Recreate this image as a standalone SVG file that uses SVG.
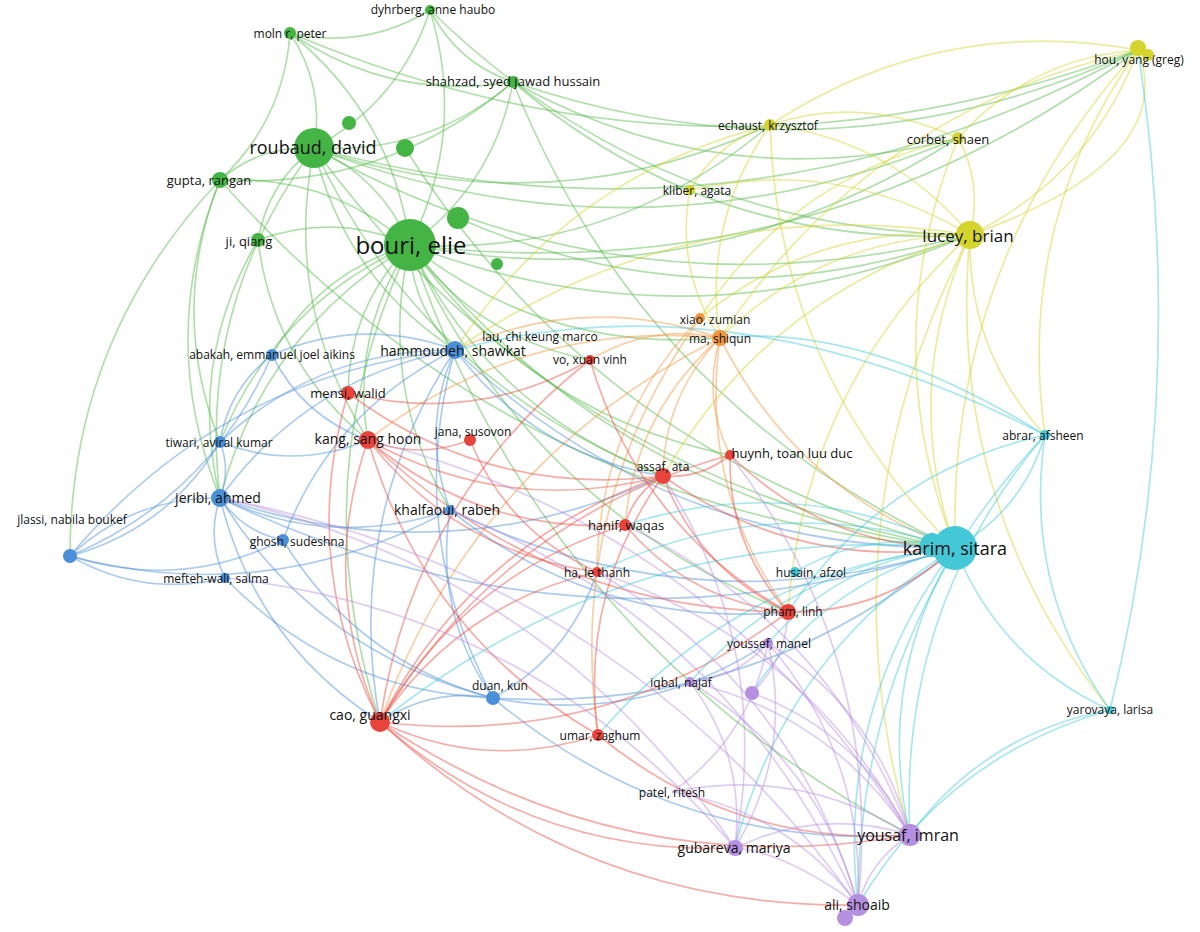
<svg xmlns="http://www.w3.org/2000/svg" width="1200" height="932" viewBox="0 0 1200 932">
<style>
text{font-family:"Open Sans","Liberation Sans",sans-serif;fill:#111;text-anchor:middle;font-size:12px}
.e path{fill:none;stroke-width:1.7;stroke-opacity:.45}
.eg path{stroke:#52b848}.ey path{stroke:#d3d32c}.eo path{stroke:#f0963c}.eb path{stroke:#4a8fd8}.er path{stroke:#e84a3f}.ec path{stroke:#40c8d8}.ep path{stroke:#b58fe0}
.g{fill:#44b544}.y{fill:#d4d42c}.o{fill:#f0963c}.b{fill:#4a8fd8}.r{fill:#e8443c}.c{fill:#44c8d8}.p{fill:#b58fe0}
</style>
<rect width="1200" height="932" fill="#fff"/>
<g id="connectors" class="e">
<g class="eg">
<path d="M410 245Q381 177 314 148"/><path d="M410 245Q392 115 290 33"/><path d="M410 245Q467 132 430 10"/><path d="M410 245Q494 184 513 82"/><path d="M410 245Q328 174 220 180"/><path d="M410 245Q335 212 258 240"/><path d="M410 245Q692 352 970 235"/><path d="M410 245Q622 505 955 548"/><path d="M410 245Q411 306 455 350"/><path d="M410 245Q350 334 368 440"/><path d="M410 245Q349 307 348 393"/><path d="M410 245Q490 411 663 476"/><path d="M410 245Q546 353 720 338"/><path d="M410 245Q705 301 958 138"/><path d="M410 245Q614 257 770 125"/><path d="M410 245Q264 333 220 498"/><path d="M410 245Q275 305 220 442"/><path d="M410 245Q319 272 272 355"/><path d="M410 245Q377 385 450 510"/><path d="M410 245Q300 477 380 722"/><path d="M410 245Q477 338 590 360"/><path d="M410 245Q528 414 730 455"/><path d="M410 245Q813 293 1138 50"/><path d="M410 245Q542 640 910 835"/><path d="M410 245Q526 504 788 612"/>
<path d="M314 148Q325 86 290 33"/><path d="M314 148Q400 102 430 10"/><path d="M314 148Q427 155 513 82"/><path d="M314 148Q261 145 220 180"/><path d="M314 148Q268 183 258 240"/><path d="M314 148Q625 323 970 235"/><path d="M314 148Q554 476 955 548"/><path d="M314 148Q547 228 770 125"/><path d="M314 148Q638 272 958 138"/><path d="M314 148Q197 304 220 498"/><path d="M314 148Q283 305 368 440"/><path d="M314 148Q746 264 1138 50"/><path d="M314 148Q344 277 455 350"/><path d="M314 148Q423 382 663 476"/>
<path d="M220 180Q284 120 290 33"/><path d="M220 180Q156 339 220 498"/><path d="M220 180Q70 338 70 556"/><path d="M220 180Q168 311 220 442"/><path d="M220 180Q386 190 513 82"/><path d="M290 33Q365 50 430 10"/><path d="M290 33Q392 102 513 82"/><path d="M430 10Q457 63 513 82"/><path d="M430 10Q655 230 970 235"/><path d="M513 82Q711 250 970 235"/><path d="M513 82Q724 199 958 138"/><path d="M513 82Q832 191 1138 50"/><path d="M513 82Q641 403 955 548"/><path d="M290 33Q711 211 1138 50"/><path d="M258 240Q187 361 220 498"/><path d="M258 240Q273 362 368 440"/><path d="M458 218Q711 329 970 235"/><path d="M405 148Q600 458 955 548"/><path d="M220 180Q514 511 955 548"/>
</g>
<g class="ey">
<path d="M970 235Q1091 176 1138 50"/><path d="M970 235Q983 184 958 138"/><path d="M970 235Q892 140 770 125"/><path d="M970 235Q839 156 690 190"/><path d="M970 235Q900 388 955 548"/><path d="M970 235Q824 236 720 338"/><path d="M970 235Q818 222 700 318"/><path d="M970 235Q820 523 910 835"/><path d="M970 235Q967 350 1045 435"/><path d="M970 235Q768 294 663 476"/><path d="M970 235Q804 387 788 612"/><path d="M970 235Q690 190 455 350"/><path d="M970 235Q945 500 1110 710"/><path d="M1138 50Q1030 58 958 138"/><path d="M1138 50Q939 14 770 125"/><path d="M1138 50Q947 262 955 548"/><path d="M1138 50Q1015 224 1045 435"/><path d="M1138 50Q871 110 720 338"/><path d="M1138 50Q1180 160 970 235"/><path d="M958 138Q861 94 770 125"/><path d="M958 138Q875 342 955 548"/><path d="M958 138Q793 176 700 318"/><path d="M770 125Q702 222 720 338"/><path d="M770 125Q717 142 690 190"/><path d="M690 190Q675 270 720 338"/><path d="M770 125Q778 374 955 548"/><path d="M770 125Q568 175 455 350"/>
</g>
<g class="eo">
<path d="M720 338Q651 323 590 360"/><path d="M720 338Q664 396 663 476"/><path d="M720 338Q702 399 730 455"/><path d="M720 338Q796 490 955 548"/><path d="M720 338Q585 291 455 350"/><path d="M720 338Q473 462 380 722"/><path d="M720 338Q635 413 625 525"/><path d="M720 338Q699 489 788 612"/><path d="M720 338Q524 319 368 440"/><path d="M700 318Q598 424 597 572"/><path d="M700 318Q566 506 598 735"/>
</g>
<g class="eb">
<path d="M455 350Q362 316 272 355"/><path d="M455 350Q308 377 220 498"/><path d="M455 350Q319 349 220 442"/><path d="M455 350Q420 429 450 510"/><path d="M455 350Q404 532 493 698"/><path d="M455 350Q221 376 70 556"/><path d="M455 350Q665 549 955 548"/><path d="M455 350Q534 455 663 476"/><path d="M455 350Q343 521 380 722"/><path d="M455 350Q331 411 283 540"/>
<path d="M220 498Q133 497 70 556"/><path d="M220 498Q231 470 220 442"/><path d="M220 498Q243 532 283 540"/><path d="M220 498Q206 539 225 578"/><path d="M220 498Q333 550 450 510"/><path d="M220 498Q578 670 955 548"/><path d="M220 498Q317 653 493 698"/><path d="M220 498Q255 642 380 722"/><path d="M220 498Q446 576 663 476"/>
<path d="M70 556Q168 529 220 442"/><path d="M70 556Q143 598 225 578"/><path d="M70 556Q180 591 283 540"/><path d="M70 556Q211 496 272 355"/><path d="M70 556Q269 609 450 510"/><path d="M272 355Q229 388 220 442"/><path d="M272 355Q303 417 368 440"/><path d="M220 442Q294 471 368 440"/>
<path d="M225 578Q335 692 493 698"/><path d="M283 540Q356 661 493 698"/><path d="M450 510Q434 613 493 698"/><path d="M450 510Q695 630 955 548"/><path d="M493 698Q754 715 955 548"/><path d="M493 698Q642 726 768 643"/><path d="M493 698Q432 687 380 722"/><path d="M493 698Q674 850 910 835"/><path d="M493 698Q570 656 597 572"/><path d="M450 510Q599 629 788 612"/>
</g>
<g class="er">
<path d="M348 393Q476 425 590 360"/><path d="M348 393Q489 498 663 476"/><path d="M348 393Q298 564 380 722"/><path d="M368 440Q508 517 663 476"/><path d="M368 440Q318 583 380 722"/><path d="M368 440Q544 610 788 612"/><path d="M368 440Q480 534 625 525"/><path d="M368 440Q419 460 470 440"/><path d="M368 440Q456 552 597 572"/><path d="M368 440Q424 634 598 735"/><path d="M470 440Q507 531 597 572"/>
<path d="M663 476Q472 542 380 722"/><path d="M663 476Q634 493 625 525"/><path d="M663 476Q698 569 788 612"/><path d="M663 476Q701 479 730 455"/><path d="M663 476Q795 570 955 548"/><path d="M663 476Q579 593 598 735"/><path d="M590 360Q413 499 380 722"/><path d="M590 360Q639 526 788 612"/><path d="M730 455Q728 545 788 612"/><path d="M730 455Q502 519 380 722"/><path d="M730 455Q824 547 955 548"/><path d="M625 525Q463 575 380 722"/><path d="M625 525Q689 601 788 612"/><path d="M597 572Q459 604 380 722"/>
<path d="M380 722Q486 772 598 735"/><path d="M380 722Q606 749 788 612"/><path d="M380 722Q622 885 910 835"/><path d="M380 722Q582 909 858 905"/><path d="M598 735Q734 847 910 835"/><path d="M788 612Q884 613 955 548"/><path d="M380 722Q532 856 735 848"/>
</g>
<g class="ec">
<path d="M955 548Q1023 510 1045 435"/><path d="M955 548Q1000 660 1110 710"/><path d="M955 548Q870 528 795 572"/><path d="M955 548Q875 683 910 835"/><path d="M955 548Q835 707 858 905"/><path d="M955 548Q785 654 735 848"/><path d="M955 548Q843 558 768 643"/><path d="M955 548Q825 580 752 693"/><path d="M955 548Q796 562 690 682"/><path d="M955 548Q771 488 597 572"/><path d="M955 548Q633 520 380 722"/><path d="M955 548Q795 471 625 525"/><path d="M955 548Q739 570 598 735"/>
<path d="M1045 435Q1023 586 1110 710"/><path d="M1045 435Q898 608 910 835"/><path d="M1045 435Q858 633 858 905"/><path d="M1045 435Q733 275 455 350"/><path d="M1045 435Q881 472 788 612"/><path d="M1045 435Q863 322 720 338"/><path d="M1110 710Q985 733 910 835"/><path d="M1110 710Q945 757 858 905"/><path d="M1110 710Q1190 386 1138 50"/>
</g>
<g class="ep">
<path d="M910 835Q870 860 858 905"/><path d="M910 835Q820 807 735 848"/><path d="M910 835Q800 766 672 792"/><path d="M910 835Q877 711 768 643"/><path d="M910 835Q859 732 752 693"/><path d="M910 835Q831 715 690 682"/><path d="M910 835Q806 641 597 572"/><path d="M910 835Q830 623 625 525"/><path d="M910 835Q718 529 368 440"/>
<path d="M858 905Q785 852 735 848"/><path d="M858 905Q788 811 672 792"/><path d="M858 905Q865 756 768 643"/><path d="M858 905Q819 760 690 682"/><path d="M858 905Q884 654 730 455"/><path d="M858 905Q620 574 220 498"/><path d="M858 905Q733 626 450 510"/><path d="M735 848Q793 752 768 643"/><path d="M735 848Q746 756 690 682"/><path d="M735 848Q773 648 663 476"/><path d="M735 848Q548 570 220 498"/><path d="M672 792Q750 737 768 643"/><path d="M690 682Q737 678 768 643"/><path d="M752 693Q786 660 788 612"/><path d="M858 905Q794 686 597 572"/><path d="M735 848Q534 611 225 578"/>
</g>
</g>
<g id="n-roubaud"><circle cx="314" cy="148" r="20" class="g"/><text x="313" y="154" style="font-size:18px">roubaud, david</text></g>
<g id="n-g1"><circle cx="349" cy="123" r="7" class="g"/></g>
<g id="n-g2"><circle cx="405" cy="148" r="9" class="g"/></g>
<g id="n-g3"><circle cx="458" cy="218" r="11" class="g"/></g>
<g id="n-g4"><circle cx="497" cy="264" r="6" class="g"/></g>
<g id="n-bouri"><circle cx="410" cy="245" r="26" class="g"/><text x="411" y="254" style="font-size:24px">bouri, elie</text></g>
<g id="n-molnar"><circle cx="290" cy="33" r="6" class="g"/><text x="290" y="38">moln r, peter</text></g>
<g id="n-dyhrberg"><circle cx="430" cy="10" r="5" class="g"/><text x="433" y="14">dyhrberg, anne haubo</text></g>
<g id="n-shahzad"><circle cx="513" cy="82" r="6" class="g"/><text x="513" y="86" style="font-size:13px">shahzad, syed jawad hussain</text></g>
<g id="n-gupta"><circle cx="220" cy="180" r="8" class="g"/><text x="209" y="185" style="font-size:13px">gupta, rangan</text></g>
<g id="n-ji"><circle cx="258" cy="240" r="7" class="g"/><text x="249" y="246" style="font-size:13px">ji, qiang</text></g>
<g id="n-hou"><circle cx="1148" cy="55" r="6" class="y"/><circle cx="1138" cy="48" r="8" class="y"/><text x="1139" y="64">hou, yang (greg)</text></g>
<g id="n-echaust"><circle cx="770" cy="125" r="6" class="y"/><text x="768" y="130">echaust, krzysztof</text></g>
<g id="n-corbet"><circle cx="958" cy="138" r="6" class="y"/><text x="948" y="144" style="font-size:13px">corbet, shaen</text></g>
<g id="n-kliber"><circle cx="690" cy="190" r="5" class="y"/><text x="697" y="195">kliber, agata</text></g>
<g id="n-lucey"><circle cx="970" cy="235" r="14" class="y"/><text x="968" y="242" style="font-size:17px">lucey, brian</text></g>
<g id="n-xiao"><circle cx="700" cy="318" r="5" class="o"/><text x="715" y="324">xiao, zumian</text></g>
<g id="n-ma"><circle cx="720" cy="338" r="8" class="o"/><text x="720" y="343">ma, shiqun</text></g>
<g id="n-lau"><text x="540" y="341">lau, chi keung marco</text></g>
<g id="n-hammoudeh"><circle cx="455" cy="350" r="9" class="b"/><text x="453" y="356" style="font-size:14px">hammoudeh, shawkat</text></g>
<g id="n-abakah"><circle cx="272" cy="355" r="6" class="b"/><text x="272" y="359">abakah, emmanuel joel aikins</text></g>
<g id="n-vo"><circle cx="590" cy="360" r="5" class="r"/><text x="590" y="364">vo, xuan vinh</text></g>
<g id="n-mensi"><circle cx="348" cy="393" r="7" class="r"/><text x="348" y="398" style="font-size:13px">mensi, walid</text></g>
<g id="n-kang"><circle cx="368" cy="440" r="9" class="r"/><text x="368" y="444" style="font-size:14px">kang, sang hoon</text></g>
<g id="n-jana"><circle cx="470" cy="440" r="6" class="r"/><text x="473" y="436">jana, susovon</text></g>
<g id="n-tiwari"><circle cx="220" cy="442" r="6" class="b"/><text x="219" y="447">tiwari, aviral kumar</text></g>
<g id="n-abrar"><circle cx="1045" cy="435" r="5" class="c"/><text x="1043" y="440">abrar, afsheen</text></g>
<g id="n-huynh"><circle cx="730" cy="455" r="5" class="r"/><text x="792" y="458" style="font-size:13px">huynh, toan luu duc</text></g>
<g id="n-assaf"><circle cx="663" cy="476" r="8" class="r"/><text x="663" y="471">assaf, ata</text></g>
<g id="n-jeribi"><circle cx="220" cy="498" r="9" class="b"/><text x="218" y="503" style="font-size:14px">jeribi, ahmed</text></g>
<g id="n-khalfaoui"><circle cx="450" cy="510" r="5" class="b"/><text x="447" y="515" style="font-size:14px">khalfaoui, rabeh</text></g>
<g id="n-hanif"><circle cx="625" cy="525" r="6" class="r"/><text x="626" y="530" style="font-size:13px">hanif, waqas</text></g>
<g id="n-ghosh"><circle cx="283" cy="540" r="6" class="b"/><text x="297" y="546">ghosh, sudeshna</text></g>
<g id="n-jlassi"><circle cx="70" cy="556" r="7" class="b"/><text x="72" y="524">jlassi, nabila boukef</text></g>
<g id="n-karim"><circle cx="955" cy="548" r="22" class="c"/><circle cx="932" cy="545" r="12" class="c"/><text x="955" y="555" style="font-size:18px">karim, sitara</text></g>
<g id="n-mefteh"><circle cx="225" cy="578" r="5" class="b"/><text x="216" y="583">mefteh-wali, salma</text></g>
<g id="n-ha"><circle cx="597" cy="572" r="5" class="r"/><text x="597" y="577">ha, le thanh</text></g>
<g id="n-husain"><circle cx="795" cy="572" r="5" class="c"/><text x="811" y="577">husain, afzol</text></g>
<g id="n-pham"><circle cx="788" cy="612" r="8" class="r"/><text x="793" y="616">pham, linh</text></g>
<g id="n-youssef"><circle cx="768" cy="643" r="5" class="p"/><text x="769" y="648">youssef, manel</text></g>
<g id="n-iqbal"><circle cx="690" cy="682" r="5" class="p"/><text x="681" y="687">iqbal, najaf</text></g>
<g id="n-p1"><circle cx="752" cy="693" r="7" class="p"/></g>
<g id="n-duan"><circle cx="493" cy="698" r="7" class="b"/><text x="500" y="690">duan, kun</text></g>
<g id="n-cao"><circle cx="380" cy="722" r="10" class="r"/><text x="370" y="720" style="font-size:14px">cao, guangxi</text></g>
<g id="n-umar"><circle cx="598" cy="735" r="6" class="r"/><text x="600" y="740">umar, zaghum</text></g>
<g id="n-yarovaya"><circle cx="1110" cy="710" r="4" class="c"/><text x="1110" y="714">yarovaya, larisa</text></g>
<g id="n-patel"><text x="672" y="797">patel, ritesh</text></g>
<g id="n-gubareva"><circle cx="735" cy="848" r="8" class="p"/><text x="734" y="853" style="font-size:14px">gubareva, mariya</text></g>
<g id="n-yousaf"><circle cx="910" cy="835" r="11" class="p"/><text x="908" y="841" style="font-size:16px">yousaf, imran</text></g>
<g id="n-ali"><circle cx="845" cy="918" r="8" class="p"/><circle cx="858" cy="905" r="11" class="p"/><text x="857" y="910" style="font-size:14px">ali, shoaib</text></g>
</svg>
